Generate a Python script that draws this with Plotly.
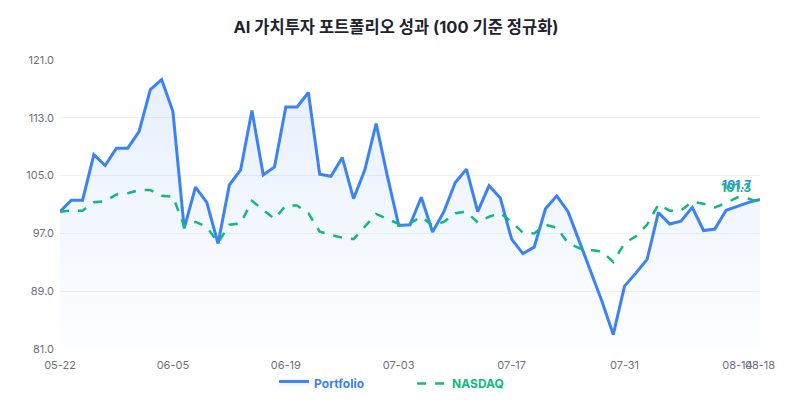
import plotly.graph_objects as go

dates = ["05-22","05-23","05-26","05-27","05-28","05-29","05-30","06-02","06-03","06-04",
         "06-05","06-06","06-09","06-10","06-11","06-12","06-13","06-16","06-17","06-18",
         "06-19","06-20","06-23","06-24","06-25","06-26","06-27","06-30","07-01","07-02",
         "07-03","07-04","07-07","07-08","07-09","07-10","07-11","07-14","07-15","07-16",
         "07-17","07-18","07-21","07-22","07-23","07-24","07-25","07-28","07-29","07-30",
         "07-31","08-01","08-04","08-05","08-06","08-07","08-08","08-11","08-12","08-13",
         "08-14","08-15","08-18"]

portfolio = [100.0, 101.6, 101.6, 107.9, 106.4, 108.8, 108.8, 111.1, 116.9, 118.3,
             113.9, 97.7, 103.4, 101.3, 95.6, 103.7, 105.8, 114.0, 105.1, 106.2,
             114.5, 114.5, 116.5, 105.2, 104.9, 107.5, 101.8, 105.8, 112.2, 104.9,
             98.1, 98.2, 102.0, 97.2, 100.0, 104.0, 105.9, 100.0, 103.6, 101.9,
             96.2, 94.2, 95.1, 100.4, 102.2, 100.0, 95.9, 91.6, 87.6, 83.0,
             89.7, 91.5, 93.4, 99.9, 98.3, 98.7, 100.6, 97.4, 97.6, 100.2,
             100.8, 101.3, 101.7]

nasdaq = [100.0, 100.15, 100.15, 101.3, 101.45, 102.4, 102.55, 103.0, 103.0, 102.2,
          102.1, 98.0, 98.6, 97.9, 95.7, 98.2, 98.4, 101.5, 100.25, 99.0,
          100.85, 100.85, 99.8, 97.25, 96.8, 96.4, 96.2, 97.95, 99.7, 99.0,
          98.3, 98.4, 99.3, 98.1, 98.6, 99.8, 100.0, 98.5, 99.3, 99.8,
          98.6, 97.1, 97.0, 98.2, 97.8, 95.65, 94.95, 94.7, 94.5, 93.05,
          95.65, 96.6, 98.2, 101.0, 100.15, 100.15, 101.4, 101.1, 100.6, 101.2,
          102.0, 101.8, 101.3]

tick_labels = ["05-22", "06-05", "06-19", "07-03", "07-17", "07-31", "08-14", "08-18"]
y_ticks = [81.0, 89.0, 97.0, 105.0, 113.0, 121.0]

BLUE = "#3b82f6"
GREEN = "#10b981"
FONT = "Inter, 'Noto Sans CJK KR', sans-serif"

fig = go.Figure()
fig.add_trace(go.Scatter(
    x=dates, y=portfolio, mode="lines",
    name=f"<b><span style='color:{BLUE}'>Portfolio</span></b>",
    line=dict(color=BLUE, width=3),
    fill="tozeroy",
    fillgradient=dict(type="vertical", start=81, stop=121,
                      colorscale=[[0, "rgba(59,130,246,0.01)"], [1, "rgba(59,130,246,0.13)"]]),
))
fig.add_trace(go.Scatter(
    x=dates, y=nasdaq, mode="lines",
    name=f"<b><span style='color:{GREEN}'>NASDAQ</span></b>",
    line=dict(color=GREEN, width=2.5, dash="dash"),
))

fig.add_annotation(x=dates[-1], y=portfolio[-1], text=f"<b>{portfolio[-1]:.1f}</b>",
                   showarrow=False, xanchor="right", yanchor="bottom", xshift=-7, yshift=5,
                   font=dict(color=BLUE, size=12, family=FONT))
fig.add_annotation(x=dates[-1], y=nasdaq[-1], text=f"<b>{nasdaq[-1]:.1f}</b>",
                   showarrow=False, xanchor="right", yanchor="bottom", xshift=-7, yshift=5,
                   font=dict(color=GREEN, size=12, family=FONT))

fig.update_layout(
    width=800, height=400,
    margin=dict(l=52, r=48, t=52, b=59, autoexpand=False),
    paper_bgcolor="white", plot_bgcolor="white",
    font=dict(family=FONT, color="#6b7280", size=11),
    title=dict(text="<b>AI 가치투자 포트폴리오 성과 (100 기준 정규화)</b>",
               x=0.485, xanchor="center", y=0.953, yanchor="middle",
               font=dict(size=16.5, color="#1f2330", family=FONT)),
    showlegend=True,
    legend=dict(orientation="h", x=0.503, xanchor="center", y=-0.069, yanchor="top",
                font=dict(size=12, family=FONT), entrywidth=93),
    xaxis=dict(type="category", range=[0, len(dates) - 1], tickmode="array",
               tickvals=tick_labels, ticktext=tick_labels, showgrid=False, tickangle=0,
               automargin=False, showline=False, zeroline=False, ticks="",
               ticklabelstandoff=8, tickfont=dict(size=11, color="#6b7280")),
    yaxis=dict(range=[81, 121], tickmode="array", tickvals=y_ticks, automargin=False,
               ticktext=[f"{v:.1f}" for v in y_ticks], gridcolor="#eef0f4", gridwidth=1,
               zeroline=False, showline=False, ticks="", ticklabelstandoff=5,
               tickfont=dict(size=11, color="#6b7280")),
)

fig.write_html("out.html")
